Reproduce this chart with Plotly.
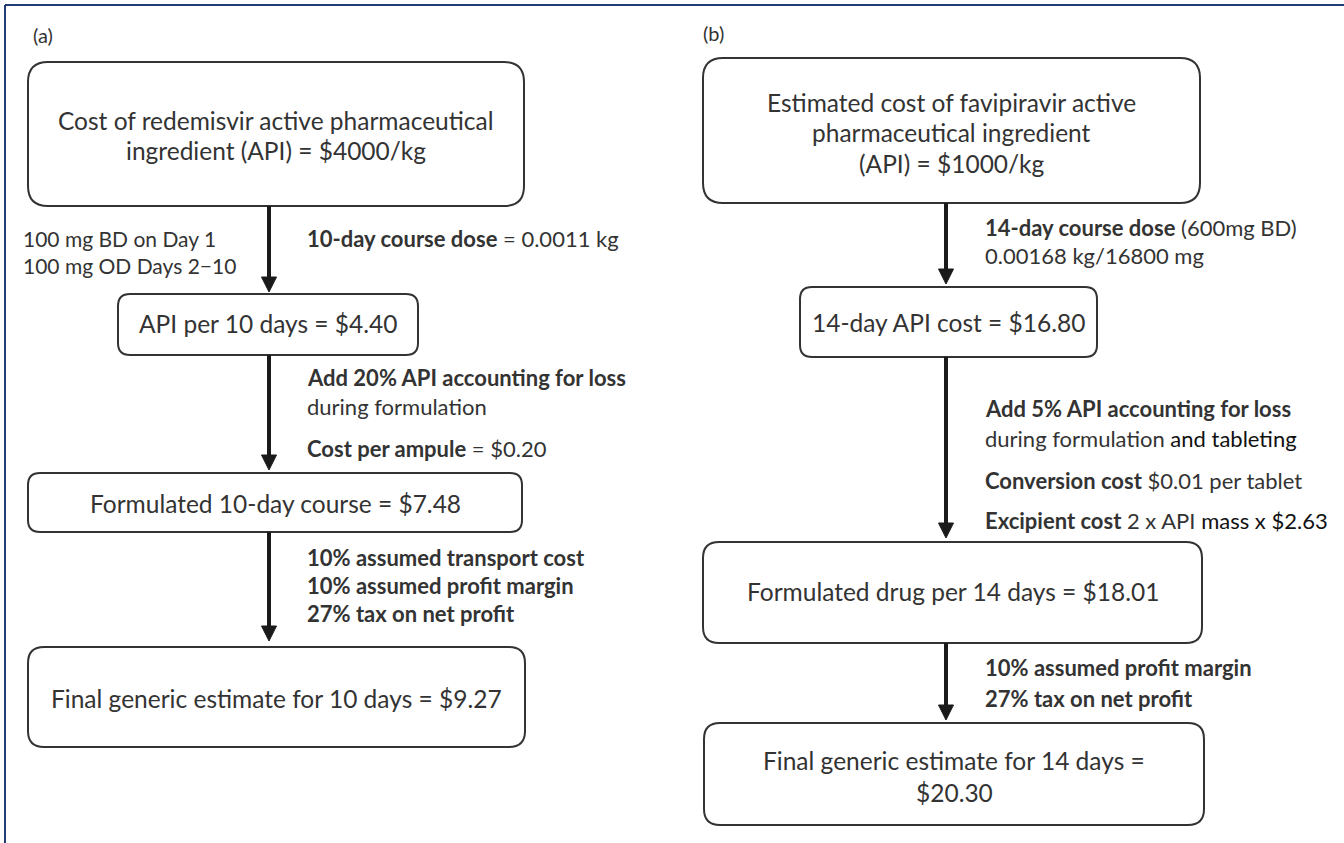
import plotly.graph_objects as go

# ---------------- content (text values) ----------------
panel_labels = ["(a)", "(b)"]

a_box_lines = [
    ["Cost of redemisvir active pharmaceutical", "ingredient (API) = $4000/kg"],
    ["API per 10 days = $4.40"],
    ["Formulated 10-day course = $7.48"],
    ["Final generic estimate for 10 days = $9.27"],
]
a_left_notes = ["100 mg BD on Day 1", "100 mg OD Days 2\u221210"]
a_step_notes = [
    ["<b>10-day course dose</b> = 0.0011 kg"],
    ["<b>Add 20% API accounting for loss</b>", "during formulation",
     "<b>Cost per ampule</b> = $0.20"],
    ["<b>10% assumed transport cost</b>", "<b>10% assumed profit margin</b>",
     "<b>27% tax on net profit</b>"],
]

b_box_lines = [
    ["Estimated cost of favipiravir active", "pharmaceutical ingredient", "(API) = $1000/kg"],
    ["14-day API cost = $16.80"],
    ["Formulated drug per 14 days = $18.01"],
    ["Final generic estimate for 14 days =", "$20.30"],
]
b_step_notes = [
    ["<b>14-day course dose</b> (600mg BD)", "0.00168 kg/16800 mg"],
    ["<b>Add 5% API accounting for loss</b>",
     "during formulation <span style='color:#111'>and tableting</span>",
     "<b>Conversion cost</b> $0.01 per tablet",
     "<b>Excipient cost</b> 2 x API <span style='color:#111'>mass x $2.63</span>"],
    ["<b>10% assumed profit margin</b>", "<b>27% tax on net profit</b>"],
]

# ---------------- layout geometry (pixel space of the canvas) ----------------
W, H = 1344, 843
FONT = "Lato"
TXT = "#333333"
BOX_FS = 24.5
NOTE_FS = 22
LEFT_FS = 21
LABEL_FS = 20

panel_label_pos = [(31, 35), (701, 33)]

a_boxes = [(28, 62, 524, 206, 20), (118, 294, 418, 355, 12),
           (28, 473, 522, 532, 12), (28, 647, 525, 747, 16)]
a_box_text_y = [[120, 150], [323], [503], [698]]
a_arrow_x = 269
a_arrows = [(206, 292), (355, 470), (532, 641)]
a_note_x = 305
a_note_y = [[238], [377, 406, 448], [557, 585, 613]]
a_left_x = 21
a_left_y = [238, 265]

b_boxes = [(703, 58, 1200, 203, 20), (800, 287, 1097, 357, 12),
           (703, 542, 1202, 643, 16), (704, 723, 1204, 825, 16)]
b_box_text_y = [[102, 132, 163], [322], [591], [760, 792]]
b_arrow_x = 946
b_arrows = [(203, 284), (357, 538), (643, 720)]
b_note_x = 983
b_note_y = [[227, 255], [408, 438, 480, 520], [667, 698]]

fig = go.Figure()
shapes = []
annotations = []


def rounded_box(x0, y0, x1, y1, r):
    path = (f"M {x0 + r},{y0} L {x1 - r},{y0} Q {x1},{y0} {x1},{y0 + r} "
            f"L {x1},{y1 - r} Q {x1},{y1} {x1 - r},{y1} "
            f"L {x0 + r},{y1} Q {x0},{y1} {x0},{y1 - r} "
            f"L {x0},{y0 + r} Q {x0},{y0} {x0 + r},{y0} Z")
    shapes.append(dict(type="path", xref="x", yref="y", path=path,
                       line=dict(color="#333333", width=2), fillcolor="rgba(0,0,0,0)"))


def arrow(x, y0, y1):
    head = 15
    shapes.append(dict(type="line", xref="x", yref="y", x0=x, x1=x, y0=y0, y1=y1 - head + 2,
                       line=dict(color="#1a1a1a", width=4)))
    shapes.append(dict(type="path", xref="x", yref="y",
                       path=f"M {x - 7.5},{y1 - head} L {x + 7.5},{y1 - head} L {x},{y1} Z",
                       line=dict(color="#1a1a1a", width=1), fillcolor="#1a1a1a"))


def text(x, y, s, size, anchor="left", color=TXT):
    annotations.append(dict(x=x, y=y, xref="x", yref="y", text=s, showarrow=False,
                            xanchor=anchor, yanchor="middle",
                            font=dict(family=FONT, size=size, color=color)))


# outer frame (top and left edges visible)
shapes.append(dict(type="line", xref="x", yref="y", x0=5, x1=W, y0=5, y1=5,
                   line=dict(color="#233c78", width=2)))
shapes.append(dict(type="line", xref="x", yref="y", x0=5, x1=5, y0=5, y1=H,
                   line=dict(color="#233c78", width=2)))

for lbl, (px, py) in zip(panel_labels, panel_label_pos):
    text(px, py, lbl, LABEL_FS)

for boxes, lines, ys in ((a_boxes, a_box_lines, a_box_text_y),
                         (b_boxes, b_box_lines, b_box_text_y)):
    for (x0, y0, x1, y1, r), ls, yy in zip(boxes, lines, ys):
        rounded_box(x0, y0, x1, y1, r)
        for s, y in zip(ls, yy):
            text((x0 + x1) / 2, y, s, BOX_FS, anchor="center")

for ax, arrs in ((a_arrow_x, a_arrows), (b_arrow_x, b_arrows)):
    for y0, y1 in arrs:
        arrow(ax, y0, y1)

for nx, notes, ys in ((a_note_x, a_step_notes, a_note_y), (b_note_x, b_step_notes, b_note_y)):
    for ls, yy in zip(notes, ys):
        for s, y in zip(ls, yy):
            text(nx, y, s, NOTE_FS)

for s, y in zip(a_left_notes, a_left_y):
    text(a_left_x, y, s, LEFT_FS)

fig.update_layout(
    width=W, height=H,
    margin=dict(l=0, r=0, t=0, b=0),
    paper_bgcolor="white", plot_bgcolor="white",
    xaxis=dict(range=[0, W], visible=False, fixedrange=True),
    yaxis=dict(range=[H, 0], visible=False, fixedrange=True),
    shapes=shapes, annotations=annotations, showlegend=False,
)

fig.write_html("out.html", config={"displayModeBar": False},
               post_script="document.body.style.margin='0';")
